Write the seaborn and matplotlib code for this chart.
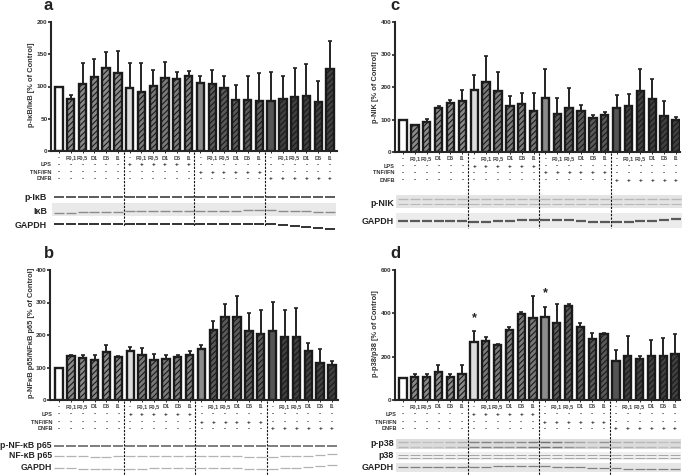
import numpy as np
import pandas as pd
import matplotlib
matplotlib.use("Agg")
import matplotlib.pyplot as plt
import seaborn as sns

lanes = ["-", "F0,1", "F0,5", "D1", "D5", "I1"] * 4
lps = ["-"] * 6 + ["+"] * 6 + ["-"] * 12
tnf = ["-"] * 12 + ["+"] * 6 + ["-"] * 6
dnfb = ["-"] * 18 + ["+"] * 6

a_means = [100, 81, 104, 115, 128, 121, 97, 91, 101, 113, 112, 117, 105, 104, 98, 79, 79, 78, 77, 80, 84, 86, 76, 127]
a_tops = [100, 87, 136, 142, 154, 155, 136, 136, 126, 138, 122, 124, 116, 125, 117, 103, 117, 121, 122, 116, 128, 135, 108, 170]
b_means = [100, 134, 130, 123, 147, 132, 152, 140, 123, 126, 132, 140, 157, 216, 254, 255, 212, 204, 212, 193, 195, 150, 115, 107]
b_tops = [100, 139, 137, 140, 168, 135, 164, 159, 141, 137, 138, 152, 168, 243, 294, 320, 268, 276, 303, 276, 282, 175, 157, 120]
c_means = [100, 82, 93, 134, 150, 157, 190, 215, 188, 141, 147, 127, 165, 116, 135, 125, 104, 114, 134, 141, 187, 163, 111, 100]
c_tops = [100, 84, 101, 141, 161, 190, 237, 294, 246, 173, 183, 183, 256, 167, 198, 144, 115, 124, 174, 178, 255, 225, 158, 107]
d_means = [100, 105, 105, 130, 105, 122, 270, 273, 252, 322, 398, 378, 382, 355, 435, 336, 280, 305, 178, 205, 188, 205, 202, 214]
d_tops = [100, 122, 122, 160, 118, 161, 320, 293, 258, 339, 406, 482, 431, 443, 444, 357, 310, 310, 233, 297, 204, 279, 286, 303]
d_star_bars = [6, 12]
d_star_values = [378, 492]

# how dark and how far shifted the blot bands look, lane by lane
gapdh_a_shift = [0, 0, 0, 0, 0, 0, 0, 0, 0, 0, 0, 0, 0, 0, 0, 0, 0, 0, 0, 1, 2, 3, 4, 5]
ikb_shift = [2, 2, 1, 1, 1, 1, 0, 0, 0, 0, 0, 0, 0, 0, 0, 0, -1, -1, -1, 0, 0, 0, 1, 1]
nf_shift = [0, 0, 0, 1, 1, 0, 0, 0, 0, 0, 0, 0, 0, 0, 0, 0, 1, 1, 1, 0, 0, 0, -1, -2]
gapdh_b_shift = [0, 0, 1, 1, 1, 1, 1, 1, 0, 0, 0, 0, 0, 0, 0, 0, 1, 1, 1, 0, 0, -1, -2, -3]
gapdh_c_shift = [0, 0, 0, 0, 0, 0, 1, 1, 0, 0, -1, -1, -1, -1, -1, 0, 1, 1, 1, 1, 0, 0, -1, -2]
gapdh_d_shift = [0, 0, 0, 0, 0, 0, 0, 0, -1, -1, -1, -1, -1, 0, 0, 0, 1, 1, 1, 2, 2, 2, 2, 2]
pp38_dark = [.4, .35, .35, .35, .4, .45, .7, .7, .65, .6, .65, .75, .8, .75, .6, .5, .4, .6, .45, .45, .4, .4, .35, .4]

sns.set_theme(style="ticks")
plt.rcParams["font.family"] = ["Liberation Sans", "DejaVu Sans"]
plt.rcParams["hatch.linewidth"] = 0.8

fig = plt.figure(figsize=(6.85, 4.76), dpi=100)
W, H = 685, 476

# overlay in pixel coords for the rows of text, blots and dashed lines
over = fig.add_axes([0, 0, 1, 1], zorder=5)
over.set_xlim(0, W)
over.set_ylim(H, 0)
over.axis("off")


def bar_colors(i):
    if i == 0:
        return "white", ""
    if i % 6 == 0:
        return {6: "#dcdcdc", 12: "#8c8c8c", 18: "#555555"}[i], ""
    if i < 6:
        return "#8a8a8a", "//////"
    if i < 12:
        return "#7a7a7a", "//////"
    if i < 18:
        return "#5a5a5a", "//////"
    return "#404040", "//////"


def draw_panel(letter, means, tops, ymax, step, ylabel, box, first, last, rows):
    x0, x1, ytop, ybot = box
    ax = fig.add_axes([x0 / W, 1 - ybot / H, (x1 - x0) / W, (ybot - ytop) / H])
    df = pd.DataFrame({"lane": np.arange(24), "value": means})
    sns.barplot(data=df, x="lane", y="value", color="white", width=0.62, saturation=1,
                errorbar=None, ax=ax, linewidth=1.7, edgecolor="#1a1a1a")
    for i, p in enumerate(ax.patches):
        face, hatch = bar_colors(i)
        p.set_facecolor(face)
        p.set_hatch(hatch)
    up = np.array(tops) - np.array(means)
    ax.errorbar(np.arange(24), means, yerr=[np.zeros(24), up], fmt="none", ecolor="#222222",
                elinewidth=1.4, capsize=1.6, capthick=1.2, zorder=1)
    s = (last - first) / 23
    ax.set_xlim((x0 - first) / s, (x1 - first) / s)
    ax.set_ylim(0, ymax)
    ax.set_yticks(np.arange(0, ymax + 1, step))
    ax.set_xticks(np.arange(24))
    ax.set_xticklabels([])
    ax.set_xlabel("")
    ax.set_ylabel("")
    ax.tick_params(axis="y", labelsize=4.6, length=2, width=1.2, pad=0.5, labelcolor="#333333")
    ax.tick_params(axis="x", length=1.2, width=0.7)
    for lab in ax.get_yticklabels():
        lab.set_fontweight("bold")
    sns.despine(ax=ax)
    ax.spines["left"].set_linewidth(1.5)
    ax.spines["bottom"].set_linewidth(1.5)
    ax.patch.set_alpha(0)

    centers = first + s * np.arange(24)
    over.text(rows["letter"][0], rows["letter"][1], letter, fontsize=12, fontweight="bold",
              ha="left", va="center", color="#222222")
    over.text(rows["ylab"][0], rows["ylab"][1], ylabel, rotation=90, fontsize=5.4, fontweight="bold",
              ha="center", va="center", color="#333333")
    for xc, name, l, t, d in zip(centers, lanes, lps, tnf, dnfb):
        over.text(xc, rows["ticks"], name, fontsize=4.1, fontweight="bold", ha="center", va="center", color="#444444")
        over.text(xc, rows["lps"], l, fontsize=4.6, fontweight="bold", ha="center", va="center", color="#222222")
        over.text(xc, rows["tnf"], t, fontsize=4.6, fontweight="bold", ha="center", va="center", color="#222222")
        over.text(xc, rows["dnfb"], d, fontsize=4.6, fontweight="bold", ha="center", va="center", color="#222222")
    for name, key in zip(["LPS", "TNF/IFN", "DNFB"], ["lps", "tnf", "dnfb"]):
        over.text(rows["right"], rows[key], name, fontsize=4.1, fontweight="bold", ha="right", va="center", color="#333333")

    # blot strips
    for b in rows["blots"]:
        if b.get("bg"):
            over.fill_between([centers[0] - 7, centers[-1] + 6], b["bg"][0], b["bg"][1], color=b["bgc"], lw=0, zorder=0)
        shift = b.get("shift", np.zeros(24))
        dark = b.get("dark", np.ones(24))
        for yb, lw in zip(b["y"], b["lw"]):
            for xc, sh, dk in zip(centers, shift, dark):
                tone = 1 - dk * (1 - b["grey"])
                over.plot([xc - 5, xc + 5], [yb + sh, yb + sh], color=str(tone),
                          lw=lw, solid_capstyle="butt", zorder=1)
        over.text(b["lx"], b["ly"], b["label"], fontsize=b.get("fs", 6.4), fontweight="bold",
                  ha="right", va="center", color="#222222")

    # group separators
    for k in [5.5, 11.5, 17.5]:
        xs = first + s * k
        over.plot([xs, xs], [ybot + 1, rows["dash_end"]], color="#111111", lw=0.8, ls=(0, (2, 1.2)), zorder=3)
    return ax


draw_panel("a", a_means, a_tops, 200, 50, "p-I\u03baB/I\u03baB [% of Control]",
           (51, 337, 22, 151), 59, 330,
           {"letter": (44, 6), "ylab": (32, 85), "ticks": 158, "lps": 165, "tnf": 172, "dnfb": 179, "right": 52,
            "dash_end": 226,
            "blots": [
                {"label": "p-I\u03baB", "lx": 47, "ly": 197, "y": [197], "lw": [1.3], "grey": 0.3},
                {"label": "I\u03baB", "lx": 47, "ly": 212, "y": [211], "lw": [1.0], "grey": 0.55, "shift": ikb_shift,
                 "bg": (203, 216), "bgc": "#e9e9e9"},
                {"label": "GAPDH", "lx": 47, "ly": 226, "y": [224], "lw": [1.4], "grey": 0.2, "shift": gapdh_a_shift},
            ]})

draw_panel("b", b_means, b_tops, 400, 100, "p-NF\u03baB p65/NF\u03baB p65 [% of Control]",
           (50, 338, 270, 400), 59, 332,
           {"letter": (44, 253), "ylab": (32, 333), "ticks": 407, "lps": 414, "tnf": 422, "dnfb": 429, "right": 53,
            "dash_end": 476,
            "blots": [
                {"label": "p-NF-\u03baB p65", "lx": 52, "ly": 446, "y": [446], "lw": [1.3], "grey": 0.45, "fs": 6.2},
                {"label": "NF-\u03baB p65", "lx": 52, "ly": 456, "y": [456], "lw": [0.9], "grey": 0.7, "shift": nf_shift, "fs": 6.2},
                {"label": "GAPDH", "lx": 52, "ly": 468, "y": [468], "lw": [0.9], "grey": 0.7, "shift": gapdh_b_shift, "fs": 6.2},
            ]})

draw_panel("c", c_means, c_tops, 400, 100, "p-NIK [% of Control]",
           (395, 680, 22, 152), 403, 676,
           {"letter": (390, 6), "ylab": (376, 87), "ticks": 159, "lps": 166, "tnf": 173, "dnfb": 180, "right": 395,
            "dash_end": 228,
            "blots": [
                {"label": "p-NIK", "lx": 394, "ly": 204, "y": [199, 204], "lw": [1.0, 0.8], "grey": 0.72,
                 "bg": (195, 208), "bgc": "#e4e4e4"},
                {"label": "GAPDH", "lx": 394, "ly": 222, "y": [221], "lw": [1.6], "grey": 0.35, "shift": gapdh_c_shift,
                 "bg": (213, 228), "bgc": "#ececec"},
            ]})

ax_d = draw_panel("d", d_means, d_tops, 600, 200, "p-p38/p38 [% of Control]",
                  (395, 680, 270, 400), 403, 675,
                  {"letter": (390, 253), "ylab": (376, 334), "ticks": 407, "lps": 414, "tnf": 422, "dnfb": 429, "right": 397,
                   "dash_end": 476,
                   "blots": [
                       {"label": "p-p38", "lx": 394, "ly": 444, "y": [442, 447], "lw": [1.0, 1.0], "grey": 0.3, "dark": pp38_dark,
                        "bg": (439, 449), "bgc": "#dcdcdc"},
                       {"label": "p38", "lx": 394, "ly": 456, "y": [455, 458], "lw": [0.6, 0.6], "grey": 0.6,
                        "bg": (452, 460), "bgc": "#efefef"},
                       {"label": "GAPDH", "lx": 394, "ly": 467, "y": [467], "lw": [0.9], "grey": 0.5, "shift": gapdh_d_shift,
                        "bg": (463, 472), "bgc": "#e6e6e6"},
                   ]})
for i, v in zip(d_star_bars, d_star_values):
    ax_d.text(i, v, "*", fontsize=9, fontweight="bold", ha="center", va="center", color="#222222")

fig.savefig("out.png", dpi=100)
